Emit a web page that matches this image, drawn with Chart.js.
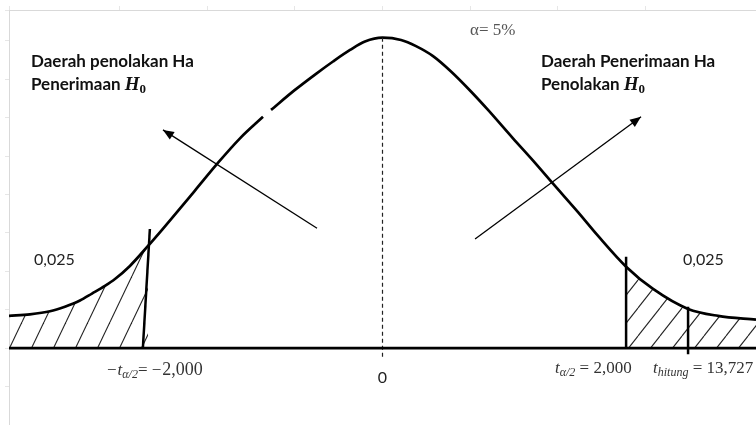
<!DOCTYPE html>
<html>
<head>
<meta charset="utf-8">
<script src="https://cdn.jsdelivr.net/npm/chart.js@4"></script>
<style>
  body { margin: 0; background: #fff; }
</style>
</head>
<body>
<canvas id="curveChart" width="756" height="425"></canvas>
<script>
// curve readings (t position, density), null = break in the line
const curveX = [-3.2, -3.021, -2.849, -2.721, -2.592, -2.489, -2.378, -2.292, -2.164, -2.009,
  -1.889, -1.761, -1.607, -1.41, -1.221, -1.024, -0.99, -0.955, -0.75, -0.578, -0.424, -0.278,
  -0.15, 0, 0.159, 0.287, 0.433, 0.587, 0.758, 0.904, 1.118, 1.29, 1.461, 1.675, 1.847, 2.087,
  2.318, 2.618, 2.875, 3.2];
const curveY = [0.042, 0.044, 0.048, 0.054, 0.062, 0.071, 0.081, 0.09, 0.107, 0.133,
  0.154, 0.177, 0.205, 0.241, 0.273, 0.301, null, 0.31, 0.336, 0.356, 0.373, 0.388,
  0.399, 0.404, 0.401, 0.393, 0.38, 0.36, 0.334, 0.31, 0.273, 0.244, 0.214, 0.177, 0.146, 0.106,
  0.077, 0.051, 0.042, 0.037];

const leftCritX = [-1.993, -2.053];
const leftCritY = [0.155, 0];
const rightCritX = [2.087, 2.087];
const rightCritY = [0.119, 0];
const hitungX = [2.618, 2.618];
const hitungY = [0.054, -0.008];
const centerX = [0, 0];
const centerY = [0.404, -0.012];
const baseX = [-3.2, 3.2];
const baseY = [0, 0];

// arrows: [tail, head]
const arrowLeftX = [-0.561, -1.881];
const arrowLeftY = [0.156, 0.284];
const arrowRightX = [0.793, 2.215];
const arrowRightY = [0.142, 0.301];

const pts = (xs, ys) => xs.map((x, i) => ({ x: x, y: ys[i] }));
const curve = pts(curveX, curveY);
const leftTail = curve.filter((p) => p.x <= -2.009);
const rightTail = curve.filter((p) => p.x >= 2.087);

function hatch(w, h) {
  const c = document.createElement("canvas");
  c.width = w;
  c.height = h;
  const g = c.getContext("2d");
  g.strokeStyle = "#222";
  g.lineWidth = 1.1;
  for (const o of [-w, 0, w]) {
    g.beginPath();
    g.moveTo(o, h);
    g.lineTo(o + w, 0);
    g.stroke();
  }
  return g.createPattern(c, "repeat");
}

function rich(ctx, parts, x, y) {
  let cx = x;
  parts.forEach((p) => {
    ctx.font = p.font;
    ctx.fillStyle = p.color || "#222";
    ctx.fillText(p.t, cx, y + (p.dy || 0));
    cx += ctx.measureText(p.t).width + (p.gap || 0);
  });
}

const SANS_B = "bold 17px Lato";
const H0 = [
  { t: "H", font: "bold italic 19px 'Liberation Serif'", color: "#111" },
  { t: "0", font: "bold 13px 'Liberation Serif'", dy: 3, color: "#111" },
];

const labelsPlugin = {
  id: "labels",
  afterDatasetsDraw(chart) {
    const { ctx, scales } = chart;
    const px = (v) => scales.x.getPixelForValue(v);
    const py = (v) => scales.y.getPixelForValue(v);
    ctx.save();

    // arrow heads
    [[arrowLeftX, arrowLeftY], [arrowRightX, arrowRightY]].forEach(([xs, ys]) => {
      const x0 = px(xs[0]), y0 = py(ys[0]), x1 = px(xs[1]), y1 = py(ys[1]);
      const a = Math.atan2(y1 - y0, x1 - x0);
      const len = 11, half = 4.5;
      ctx.fillStyle = "#000";
      ctx.beginPath();
      ctx.moveTo(x1, y1);
      ctx.lineTo(x1 - len * Math.cos(a) + half * Math.sin(a), y1 - len * Math.sin(a) - half * Math.cos(a));
      ctx.lineTo(x1 - len * Math.cos(a) - half * Math.sin(a), y1 - len * Math.sin(a) + half * Math.cos(a));
      ctx.closePath();
      ctx.fill();
    });

    ctx.textBaseline = "alphabetic";
    rich(ctx, [{ t: "Daerah penolakan Ha", font: SANS_B, color: "#111" }], 31, 67);
    rich(ctx, [{ t: "Penerimaan ", font: SANS_B, color: "#111" }].concat(H0), 31, 90);
    rich(ctx, [{ t: "Daerah Penerimaan Ha", font: SANS_B, color: "#111" }], 541, 67);
    rich(ctx, [{ t: "Penolakan ", font: SANS_B, color: "#111" }].concat(H0), 541, 90);
    rich(ctx, [{ t: "\u03b1= 5%", font: "17px 'Liberation Serif'", color: "#555" }], 470, 35);

    rich(ctx, [{ t: "0,025", font: "16px Lato", color: "#222" }], 34, 265);
    rich(ctx, [{ t: "0,025", font: "16px Lato", color: "#222" }], 683, 265);

    const it = "italic 17px 'Liberation Serif'";
    const sub = "italic 12px 'Liberation Serif'";
    const rm = "17px 'Liberation Serif'";
    rich(ctx, [
      { t: "\u2212", font: rm, color: "#333", gap: 1 },
      { t: "t", font: it, color: "#333" },
      { t: "\u03b1/2", font: sub, dy: 3, color: "#333" },
      { t: "= \u2212", font: rm, color: "#333", gap: 1 },
      { t: "2,000", font: "18px 'Liberation Serif'", color: "#333" },
    ], 107, 375);
    rich(ctx, [
      { t: "t", font: it, color: "#333" },
      { t: "\u03b1/2", font: sub, dy: 3, color: "#333" },
      { t: " = 2,000", font: rm, color: "#333" },
    ], 555, 373);
    rich(ctx, [
      { t: "t", font: it, color: "#333" },
      { t: "hitung", font: sub, dy: 3, color: "#333" },
      { t: " = 13,727", font: rm, color: "#333" },
    ], 653, 373);

    ctx.font = "16px Lato";
    ctx.fillStyle = "#222";
    ctx.textAlign = "center";
    ctx.fillText("0", px(0), 383);
    ctx.restore();
  },
};

const line = (data, extra) =>
  Object.assign({ data: data, showLine: true, pointRadius: 0, borderColor: "#000", fill: false, order: 1 }, extra);

new Chart(document.getElementById("curveChart"), {
  type: "scatter",
  data: {
    datasets: [
      line(leftTail, { borderWidth: 0, fill: "origin", backgroundColor: hatch(22, 46), cubicInterpolationMode: "monotone", order: 5 }),
      line(rightTail, { borderWidth: 0, fill: "origin", backgroundColor: hatch(22, 28), cubicInterpolationMode: "monotone", order: 5 }),
      line(pts(baseX, baseY), { borderWidth: 2.7 }),
      line(pts(centerX, centerY), { borderWidth: 1.2, borderDash: [4, 3], borderColor: "#222" }),
      line(curve, { borderWidth: 2.7, cubicInterpolationMode: "monotone", spanGaps: false }),
      line(pts(leftCritX, leftCritY), { borderWidth: 2.5 }),
      line(pts(rightCritX, rightCritY), { borderWidth: 2.5 }),
      line(pts(hitungX, hitungY), { borderWidth: 2.5 }),
      line(pts(arrowLeftX, arrowLeftY), { borderWidth: 1.3 }),
      line(pts(arrowRightX, arrowRightY), { borderWidth: 1.3 }),
    ],
  },
  options: {
    responsive: false,
    animation: false,
    devicePixelRatio: 1,
    events: [],
    layout: { padding: { left: 5, top: 6, right: 0, bottom: 0 } },
    plugins: { legend: { display: false }, tooltip: { enabled: false } },
    scales: {
      x: {
        type: "linear",
        position: "top",
        min: -3.2,
        max: 3.2,
        ticks: { display: false, stepSize: 0.75 },
        grid: { drawOnChartArea: false, drawTicks: true, tickLength: 4, color: "#e6e6e6" },
        border: { display: true, color: "#d9d9d9" },
      },
      y: {
        min: -0.1,
        max: 0.44,
        ticks: { display: false, stepSize: 0.05 },
        grid: { drawOnChartArea: false, drawTicks: true, tickLength: 4, color: "#e6e6e6" },
        border: { display: true, color: "#d9d9d9" },
      },
    },
  },
  plugins: [labelsPlugin],
});
</script>
</body>
</html>
